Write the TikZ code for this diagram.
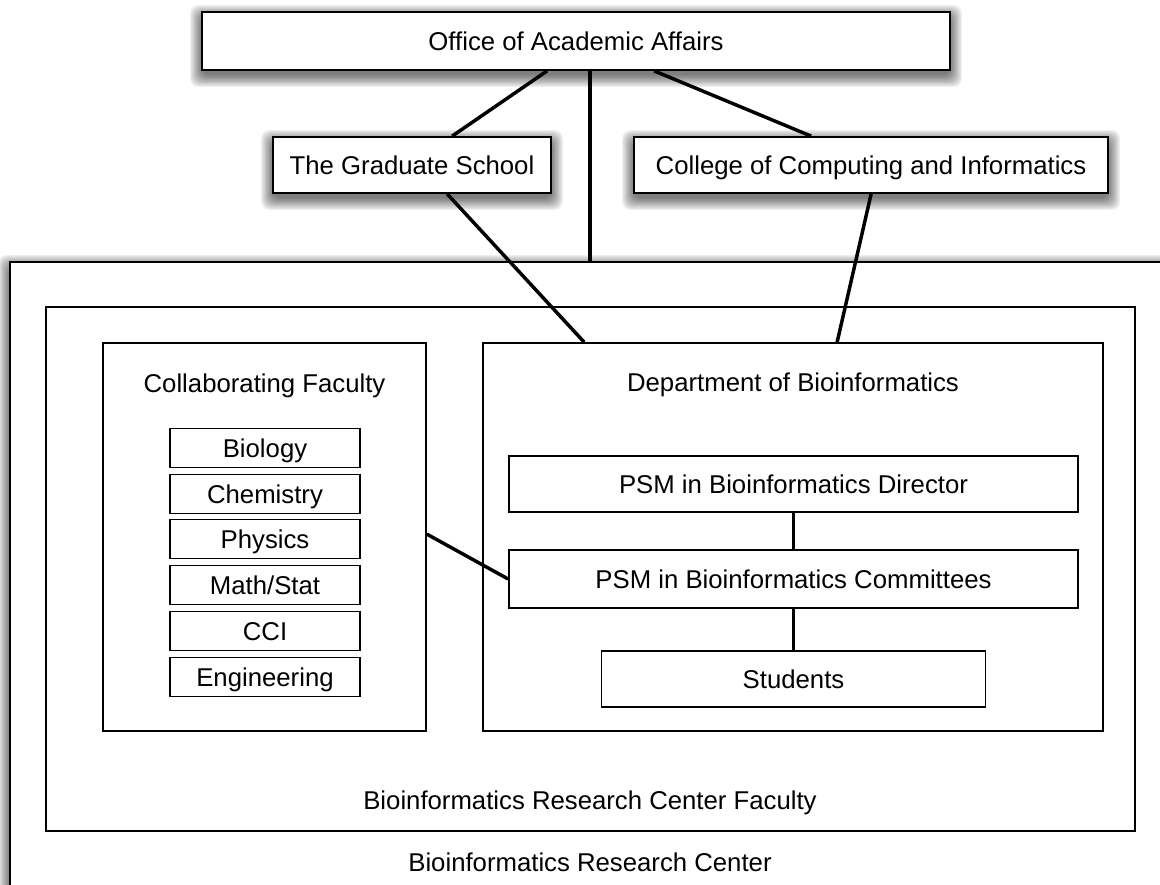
\documentclass[tikz,border=0pt]{standalone}
\usepackage{fontspec}
\setmainfont{Liberation Sans}
\usetikzlibrary{calc,backgrounds}
% soft shadow behind a node: stacked translucent rectangles, shifted down
\newcommand\boxshade[1]{%
  \foreach \k in {0,...,9}{%
    \fill[black, opacity=0.065, rounded corners=6]
      ($(#1.south west)+(-11+1.3*\k, 16-1.3*\k)$) rectangle
      ($(#1.north east)+(11-1.3*\k, -6+1.3*\k)$);
  }}
\begin{document}
\begin{tikzpicture}[x=0.75pt,y=-0.75pt,
  label font/.style={font=\fontsize{19.3}{22}\selectfont, text height=13.6pt, text depth=0pt},
  box/.style={draw=black, line width=1.3pt, fill=white, inner sep=0pt, label font},
  frame/.style={draw=black, line width=1.3pt, inner sep=0pt},
  link/.style={line width=2.6pt},
  txt/.style={inner sep=0pt, label font}]
\clip (0,0) rectangle (1160,885);

% research center (runs past the page edges)
\node[box, minimum width=1190*0.75pt, minimum height=668*0.75pt] (brc) at (605,596) {};
\node[txt] (brclabel) at (590,862) {Bioinformatics Research Center};

% faculty frame
\node[frame, minimum width=1089*0.75pt, minimum height=524*0.75pt] (faculty) at (590.5,569) {};
\node[txt] (facultylabel) at (590,800) {Bioinformatics Research Center Faculty};

% collaborating faculty
\node[frame, minimum width=323*0.75pt, minimum height=388*0.75pt] (collab) at (264.5,537) {};
\node[txt] (collablabel) at (264.5,383) {Collaborating Faculty};
\node[box, minimum width=190*0.75pt, minimum height=39*0.75pt] (bio)  at (265,448) {Biology};
\node[box, minimum width=190*0.75pt, minimum height=39*0.75pt] (chem) at (265,494) {Chemistry};
\node[box, minimum width=190*0.75pt, minimum height=39*0.75pt] (phys) at (265,539) {Physics};
\node[box, minimum width=190*0.75pt, minimum height=39*0.75pt] (math) at (265,585) {Math/Stat};
\node[box, minimum width=190*0.75pt, minimum height=39*0.75pt] (cci)  at (265,631) {CCI};
\node[box, minimum width=190*0.75pt, minimum height=39*0.75pt] (eng)  at (265,677) {Engineering};

% department
\node[frame, minimum width=620*0.75pt, minimum height=388*0.75pt] (dept) at (793,537) {};
\node[txt] (deptlabel) at (793,382) {Department of Bioinformatics};
\node[box, minimum width=569*0.75pt, minimum height=56*0.75pt] (director) at (793.5,484) {PSM in Bioinformatics Director};
\node[box, minimum width=569*0.75pt, minimum height=58*0.75pt] (committees) at (793.5,579) {PSM in Bioinformatics Committees};
\node[box, minimum width=384*0.75pt, minimum height=56*0.75pt] (students) at (793.5,679) {Students};

% upper administration
\node[box, minimum width=748*0.75pt, minimum height=58*0.75pt] (office) at (576,41) {Office of Academic Affairs};
\node[box, minimum width=278*0.75pt, minimum height=56*0.75pt] (grad) at (412,165) {The Graduate School};
\node[box, minimum width=474*0.75pt, minimum height=56*0.75pt] (college) at (871,165) {College of Computing and Informatics};

% page and shadows behind everything
\begin{scope}[on background layer]
  \fill[white] (0,0) rectangle (1160,885);
  \boxshade{brc}
  \boxshade{office}
  \boxshade{grad}
  \boxshade{college}
\end{scope}

% connectors
\coordinate (ov) at ($(office.south west)+(389,0)$);
\draw[link] ($(office.south west)+(346,0)$) -- ($(grad.north west)+(180,0)$);
\draw[link] (ov) -- (ov |- brc.north);
\draw[link] ($(office.south west)+(453,0)$) -- ($(college.north west)+(178,0)$);
\draw[link] ($(grad.south west)+(175,0)$) -- ($(dept.north west)+(102,0)$);
\draw[link] ($(college.south west)+(238,0)$) -- ($(dept.north west)+(355,0)$);
\draw[link] ($(collab.north east)+(0,192)$) -- (committees.west);
\draw[link] (director.south) -- (committees.north);
\draw[link] (committees.south) -- (students.north);
\end{tikzpicture}
\end{document}
